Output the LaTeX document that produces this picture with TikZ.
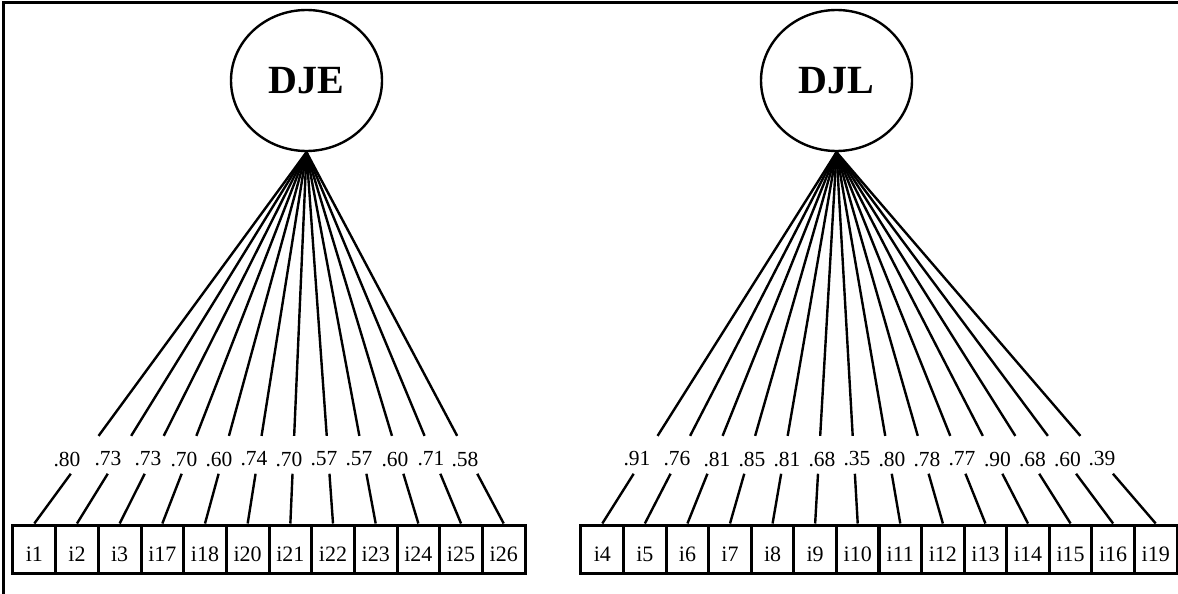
\documentclass[tikz,border=0pt]{standalone}
\usepackage{fontspec}
\setmainfont{Liberation Serif}
\usetikzlibrary{shapes.geometric,calc}
\begin{document}
\begin{tikzpicture}[x=1pt,y=-1pt,
 latent/.style={draw,ellipse,line width=2.4pt,minimum width=151pt,minimum height=141pt,inner sep=0pt,font=\fontsize{40}{40}\selectfont\bfseries},
 item/.style={draw,rectangle,line width=3pt,minimum width=42.67pt,minimum height=48pt,inner sep=0pt,text height=25pt,text depth=0pt,font=\fontsize{22}{22}\selectfont},
 load/.style={font=\fontsize{21.5}{21.5}\selectfont,inner sep=0pt},
 fanline/.style={line width=2.4pt},
 frameline/.style={line width=3pt}]
\useasboundingbox (0,0) rectangle (1178,594);
\coordinate (tl) at (3,3);
\coordinate (tr) at (1178,3);
\coordinate (bl) at (3,594);
\draw[frameline] (tr) -- (tl) -- (bl);
\node[latent] (DJE) at (306.5,80.5) {DJE};
\node[latent] (DJL) at (836.5,80.5) {DJL};
\foreach \nm/\ld/\lx [count=\k] in {i1/.80/67, i2/.73/108, i3/.73/148, i17/.70/184, i18/.60/219, i20/.74/254, i21/.70/289, i22/.57/324, i23/.57/359, i24/.60/395, i25/.71/431, i26/.58/465} {
  \node[item] (\nm) at ({34.33+42.67*(\k-1)},549) {\nm};
  \draw[fanline] (DJE.south) -- ($(DJE.south)!0.764!(\nm.north)$);
  \draw[fanline] ($(DJE.south)!0.866!(\nm.north)$) -- (\nm.north);
  \node[load] (l\nm) at (\lx,459) {\ld};
}
\foreach \nm/\ld/\lx [count=\k] in {i4/.91/637, i5/.76/677, i6/.81/717, i7/.85/752, i8/.81/787, i9/.68/822, i10/.35/857, i11/.80/892, i12/.78/927, i13/.77/962, i14/.90/997.5, i15/.68/1032.5, i16/.60/1067.5, i19/.39/1102} {
  \node[item] (\nm) at ({602.3+42.57*(\k-1)},549) {\nm};
  \draw[fanline] (DJL.south) -- ($(DJL.south)!0.764!(\nm.north)$);
  \draw[fanline] ($(DJL.south)!0.866!(\nm.north)$) -- (\nm.north);
  \node[load] (l\nm) at (\lx,459) {\ld};
}
\end{tikzpicture}
\end{document}
